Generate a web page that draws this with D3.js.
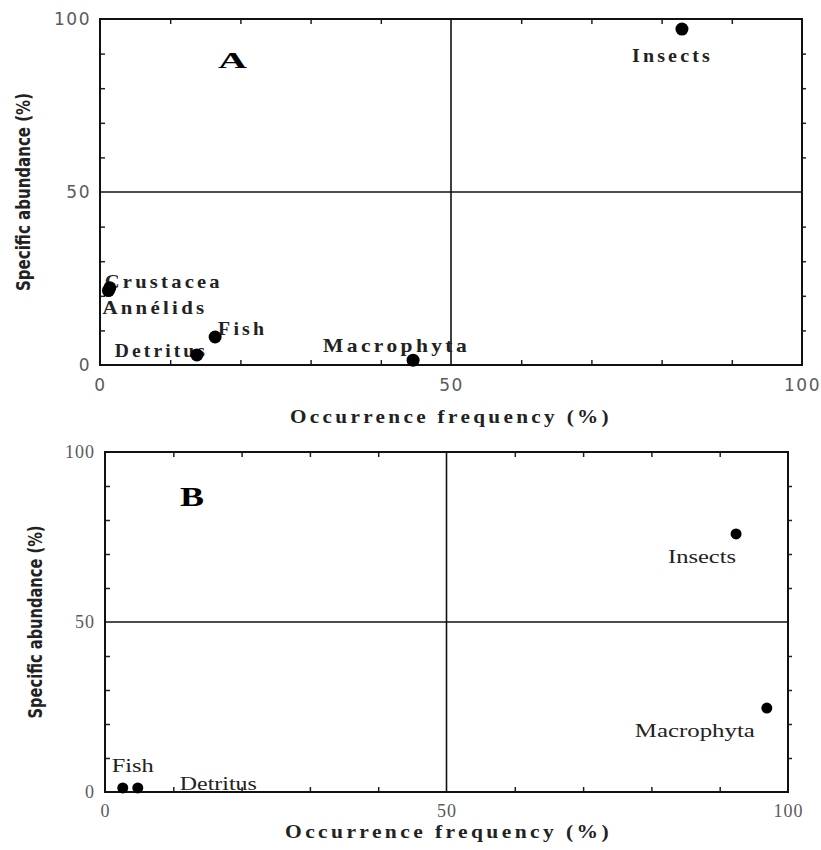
<!DOCTYPE html>
<html lang="en">
<head>
    <meta charset="UTF-8">
    <title>Occurrence frequency vs specific abundance</title>
    <script src="https://d3js.org/d3.v7.min.js"></script>
    <style>
        body { margin: 0; background: #fff; }
        svg { display: block; }
    </style>
</head>
<body>
    <div id="chart"></div>

    <script>
        // data
        const itemsA = ["Insects", "Crustacea", "Annélids", "Fish", "Detritus", "Macrophyta"];
        const freqA  = [82.9, 1.4, 1.2, 16.4, 13.8, 44.6];
        const abundA = [97.1, 22.3, 21.5, 8.1, 2.9, 1.4];

        const itemsB = ["Insects", "Macrophyta", "Fish", "Detritus"];
        const freqB  = [92.4, 96.9, 2.6, 4.8];
        const abundB = [75.9, 24.7, 1.2, 1.2];

        const majorTicks = [0, 50, 100];
        const minorTicks = [10, 20, 30, 40, 60, 70, 80, 90];
        const xTitle = "Occurrence frequency (%)";
        const yTitle = "Specific abundance (%)";

        // label placement relative to each dot (layout only)
        const layoutA = [
            {dx: -50, dy: 33, w: 81},
            {dx: -5, dy: 0, w: 118},
            {dx: -6, dy: 23, w: 105},
            {dx: 3, dy: -2, w: 49},
            {dx: -82, dy: 2, w: 93},
            {dx: -90, dy: -8, w: 147}
        ];
        const layoutB = [
            {dx: -68, dy: 29, w: 68},
            {dx: -132, dy: 29, w: 120},
            {dx: -11, dy: -16, w: 42},
            {dx: 42, dy: 2, w: 77}
        ];

        const width = 821, height = 850;
        const svg = d3.select("#chart").append("svg")
            .attr("width", width)
            .attr("height", height);

        function drawPanel(opt) {
            const x = d3.scaleLinear().domain([0, 100]).range([opt.left, opt.right]);
            const y = d3.scaleLinear().domain([0, 100]).range([opt.bottom, opt.top]);
            const g = svg.append("g");

            // minor ticks on all four sides
            const tickAxes = [
                [d3.axisTop(x).tickSize(-5), `translate(0,${opt.top})`],
                [d3.axisBottom(x).tickSize(-5), `translate(0,${opt.bottom})`],
                [d3.axisLeft(y).tickSize(-5), `translate(${opt.left},0)`],
                [d3.axisRight(y).tickSize(4), `translate(${opt.right},0)`]
            ];
            tickAxes.forEach(([ax, tr]) => {
                const a = g.append("g").attr("transform", tr)
                    .call(ax.tickValues(minorTicks).tickFormat(""));
                a.select(".domain").remove();
                a.selectAll("line").attr("stroke", "#222").attr("stroke-width", 1.5);
            });

            // tick labels
            const gx = g.append("g")
                .attr("transform", `translate(0,${opt.bottom})`)
                .call(d3.axisBottom(x).tickValues(majorTicks).tickSize(0).tickPadding(opt.xPad));
            const gy = g.append("g")
                .attr("transform", `translate(${opt.left},0)`)
                .call(d3.axisLeft(y).tickValues(majorTicks).tickSize(0).tickPadding(opt.yPad));
            [gx, gy].forEach(a => {
                a.select(".domain").remove();
                a.attr("font-family", opt.tickFont).attr("font-size", opt.tickSize);
                a.selectAll("text").attr("fill", "#5a5a5a").attr("letter-spacing", opt.tickSpacing);
            });

            // frame and the 50 % dividing lines
            g.append("rect")
                .attr("x", opt.left).attr("y", opt.top)
                .attr("width", opt.right - opt.left)
                .attr("height", opt.bottom - opt.top)
                .attr("fill", "none").attr("stroke", "#111").attr("stroke-width", 2);
            g.append("line")
                .attr("x1", x(50)).attr("x2", x(50))
                .attr("y1", opt.top).attr("y2", opt.bottom)
                .attr("stroke", "#111").attr("stroke-width", 1.6);
            g.append("line")
                .attr("x1", opt.left).attr("x2", opt.right)
                .attr("y1", y(50)).attr("y2", y(50))
                .attr("stroke", "#111").attr("stroke-width", 1.6);

            // panel letter
            g.append("text")
                .attr("x", opt.letterX).attr("y", opt.letterY)
                .attr("font-family", "Liberation Serif").attr("font-weight", "bold")
                .attr("font-size", opt.letterSize)
                .attr("textLength", opt.letterW).attr("lengthAdjust", "spacingAndGlyphs")
                .text(opt.letter);

            const pts = opt.items.map((name, i) => ({
                name: name, f: opt.freq[i], a: opt.abund[i], lay: opt.layout[i]
            }));

            // prey labels, then dots on top
            g.selectAll(".lab").data(pts).enter().append("text")
                .attr("class", "lab")
                .attr("x", d => x(d.f) + d.lay.dx)
                .attr("y", d => y(d.a) + d.lay.dy)
                .attr("font-family", "Liberation Serif")
                .attr("font-weight", opt.labelWeight)
                .attr("font-size", opt.labelSize)
                .attr("letter-spacing", opt.labelSpacing)
                .attr("fill", "#222")
                .attr("textLength", d => d.lay.w)
                .attr("lengthAdjust", "spacingAndGlyphs")
                .text(d => d.name);

            g.selectAll(".dot").data(pts).enter().append("circle")
                .attr("class", "dot")
                .attr("cx", d => x(d.f))
                .attr("cy", d => y(d.a))
                .attr("r", opt.r)
                .attr("fill", "#000");

            // axis titles
            g.append("text")
                .attr("x", x(50) + opt.xTitleShift).attr("y", opt.xTitleY)
                .attr("text-anchor", "middle")
                .attr("font-family", "Liberation Serif").attr("font-weight", "bold")
                .attr("font-size", 19).attr("letter-spacing", 3).attr("fill", "#222")
                .attr("textLength", opt.xTitleW).attr("lengthAdjust", "spacingAndGlyphs")
                .text(xTitle);
            g.append("text")
                .attr("transform", `translate(${opt.yTitleX},${y(50)}) rotate(-90)`)
                .attr("text-anchor", "middle")
                .attr("font-family", "DejaVu Sans Condensed").attr("font-weight", "bold")
                .attr("font-size", 19).attr("fill", "#222")
                .attr("textLength", opt.yTitleW).attr("lengthAdjust", "spacingAndGlyphs")
                .text(yTitle);
        }

        drawPanel({
            left: 100, right: 802, top: 19, bottom: 365,
            items: itemsA, freq: freqA, abund: abundA, layout: layoutA,
            letter: "A", letterX: 218, letterY: 68, letterSize: 24, letterW: 29,
            labelWeight: "bold", labelSize: 19, labelSpacing: 3,
            tickFont: "DejaVu Sans", tickSize: 17, tickSpacing: 1.5, xPad: 14, yPad: 9,
            r: 6.5, xTitleY: 423, xTitleW: 322, xTitleShift: 0, yTitleX: 30, yTitleW: 198
        });

        drawPanel({
            left: 105, right: 788, top: 452, bottom: 792,
            items: itemsB, freq: freqB, abund: abundB, layout: layoutB,
            letter: "B", letterX: 180, letterY: 506, letterSize: 28, letterW: 24,
            labelWeight: "normal", labelSize: 18, labelSpacing: 0,
            tickFont: "Liberation Serif", tickSize: 18, tickSpacing: 1, xPad: 12, yPad: 10,
            r: 5.5, xTitleY: 838, xTitleW: 327, xTitleShift: 2, yTitleX: 42, yTitleW: 193
        });
    </script>
</body>
</html>
